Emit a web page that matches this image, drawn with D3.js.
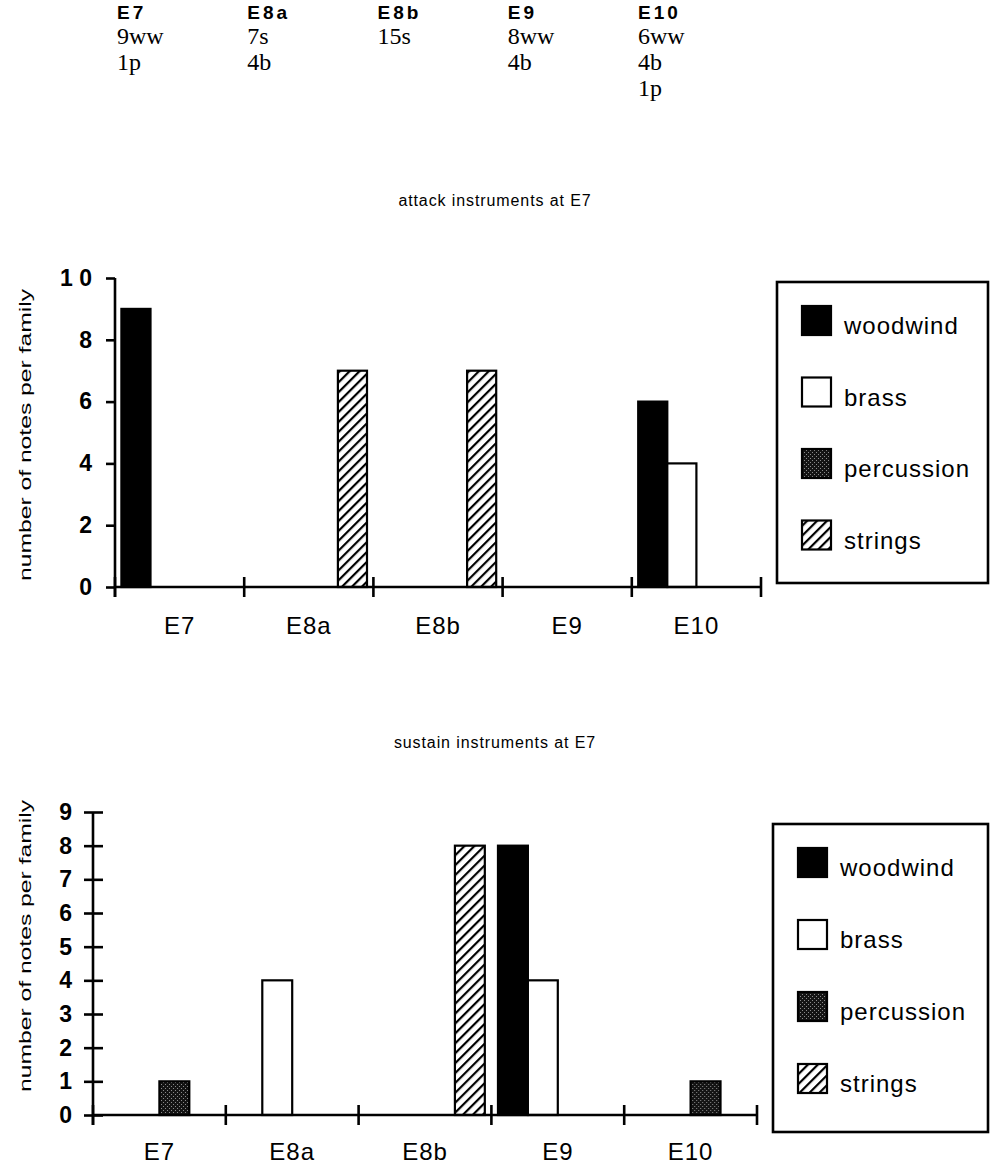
<!DOCTYPE html>
<html>
<head>
<meta charset="utf-8">
<script src="https://cdn.jsdelivr.net/npm/d3@7"></script>
<style>
  html, body { margin: 0; padding: 0; background: #fff; }
  svg { display: block; }
</style>
</head>
<body>
<script>
// ---------- DATA ----------
const categories = ["E7", "E8a", "E8b", "E9", "E10"];
const families = ["woodwind", "brass", "percussion", "strings"];

const attackWoodwind   = [9, 0, 0, 0, 6];
const attackBrass      = [0, 0, 0, 0, 4];
const attackPercussion = [0, 0, 0, 0, 0];
const attackStrings    = [0, 7, 7, 0, 0];

const sustainWoodwind   = [0, 0, 0, 8, 0];
const sustainBrass      = [0, 4, 0, 4, 0];
const sustainPercussion = [1, 0, 0, 0, 1];
const sustainStrings    = [0, 0, 8, 0, 0];

const attackTicks  = [0, 2, 4, 6, 8, 10];
const sustainTicks = [0, 1, 2, 3, 4, 5, 6, 7, 8, 9];

const headerLabels = ["E7", "E8a", "E8b", "E9", "E10"];
const headerLines  = [["9ww", "1p"], ["7s", "4b"], ["15s"], ["8ww", "4b"], ["6ww", "4b", "1p"]];

const attackTitle  = "attack instruments at E7";
const sustainTitle = "sustain instruments at E7";
const yTitle = "number of notes per family";

// ---------- SETUP ----------
const W = 990, H = 1164;
const svg = d3.select("body").append("svg").attr("width", W).attr("height", H);
const defs = svg.append("defs");

// strings hatch
const hatch = defs.append("pattern").attr("id", "hatch")
  .attr("patternUnits", "userSpaceOnUse").attr("width", 7).attr("height", 7)
  .attr("patternTransform", "rotate(45)");
hatch.append("rect").attr("width", 7).attr("height", 7).attr("fill", "#fff");
hatch.append("line").attr("x1", 1).attr("y1", 0).attr("x2", 1).attr("y2", 7)
  .attr("stroke", "#000").attr("stroke-width", 2.4);

// percussion stipple
const stip = defs.append("pattern").attr("id", "stipple")
  .attr("patternUnits", "userSpaceOnUse").attr("width", 4).attr("height", 4);
stip.append("rect").attr("width", 4).attr("height", 4).attr("fill", "#141414");
stip.append("rect").attr("x", 0).attr("y", 0).attr("width", 1).attr("height", 1).attr("fill", "#8a8a8a");
stip.append("rect").attr("x", 2).attr("y", 2).attr("width", 1).attr("height", 1).attr("fill", "#8a8a8a");

const fills = { woodwind: "#000", brass: "#fff", percussion: "url(#stipple)", strings: "url(#hatch)" };

// ---------- HEADER ----------
const headerX = d3.scalePoint().domain(headerLabels).range([117, 638]);
const hdr = svg.append("g");
headerLabels.forEach((lab, i) => {
  const x = headerX(lab);
  hdr.append("text").attr("x", x).attr("y", 19)
    .attr("font-family", "Arial, 'Liberation Sans', sans-serif")
    .attr("font-weight", "bold").attr("font-size", 19).attr("letter-spacing", 3)
    .text(lab);
  headerLines[i].forEach((t, j) => {
    hdr.append("text").attr("x", x).attr("y", 44 + j * 26)
      .attr("font-family", "'Liberation Serif', 'Times New Roman', serif")
      .attr("font-size", 24)
      .text(t);
  });
});

// ---------- CHART FUNCTION ----------
function drawChart(cfg) {
  const g = svg.append("g");
  const series = families.map((f, k) => ({ family: f, values: cfg.values[k] }));

  const x = d3.scaleBand().domain(categories).range([cfg.x0, cfg.x1]).paddingInner(0).paddingOuter(0);
  const xs = d3.scaleBand().domain(families).range([0, x.bandwidth()]).paddingInner(0).paddingOuter(0.22);
  const y = d3.scaleLinear().domain([0, cfg.yMax]).range([cfg.yBottom, cfg.yTop]);

  // title
  g.append("text").attr("x", 495).attr("y", cfg.titleY)
    .attr("text-anchor", "middle")
    .attr("font-family", "Arial, 'Liberation Sans', sans-serif")
    .attr("font-size", 16).attr("letter-spacing", 0.9)
    .text(cfg.title);

  // y title
  g.append("text")
    .attr("transform", `translate(${cfg.yLabelX},${cfg.yLabelY}) rotate(-90)`)
    .attr("text-anchor", "middle")
    .attr("font-family", "Arial, 'Liberation Sans', sans-serif")
    .attr("font-size", 17)
    .attr("textLength", 292).attr("lengthAdjust", "spacingAndGlyphs")
    .text(yTitle);

  // bars
  const groups = g.selectAll("g.cat").data(categories).join("g")
    .attr("transform", d => `translate(${x(d)},0)`);
  groups.each(function (cat, ci) {
    d3.select(this).selectAll("rect")
      .data(series.filter(s => s.values[ci] > 0).map(s => ({ family: s.family, v: s.values[ci] })))
      .join("rect")
      .attr("x", d => xs(d.family))
      .attr("width", xs.bandwidth())
      .attr("y", d => y(d.v))
      .attr("height", d => y(0) - y(d.v))
      .attr("fill", d => fills[d.family])
      .attr("stroke", "#000").attr("stroke-width", 2.2);
  });

  // y axis
  const yAxis = d3.axisLeft(y).tickValues(cfg.ticks).tickSize(9).tickPadding(cfg.yPad)
    .tickFormat(d => d === 10 ? "1 0" : String(d));
  const ya = g.append("g").attr("transform", `translate(${cfg.x0},0)`).call(yAxis);
  ya.select(".domain").remove();
  ya.append("line").attr("x1", 0).attr("x2", 0).attr("y1", cfg.yTop).attr("y2", cfg.yBottom + 10)
    .attr("stroke", "#000").attr("stroke-width", 2.6);
  ya.selectAll(".tick line").attr("x1", cfg.yTickRight).attr("x2", -9).attr("stroke-width", 2.6);
  ya.selectAll(".tick text")
    .attr("font-family", "Arial, 'Liberation Sans', sans-serif")
    .attr("font-weight", "bold").attr("font-size", 23).attr("fill", "#000");

  // x axis
  const xAxis = d3.axisBottom(x).tickSize(0).tickPadding(cfg.xLabelPad);
  const xa = g.append("g").attr("transform", `translate(0,${cfg.yBottom})`).call(xAxis);
  xa.select(".domain").attr("stroke-width", 2.6).attr("d", `M${cfg.x0},0H${cfg.x1}`);
  xa.selectAll(".tick text")
    .attr("font-family", "Arial, 'Liberation Sans', sans-serif")
    .attr("font-size", 24).attr("letter-spacing", 1).attr("fill", "#000");
  const bounds = categories.map(c => x(c)).concat([cfg.x1]);
  xa.selectAll("line.sep").data(bounds).join("line").attr("class", "sep")
    .attr("x1", d => d).attr("x2", d => d).attr("y1", -10).attr("y2", 10)
    .attr("stroke", "#000").attr("stroke-width", 2.6);

  // legend
  const lg = g.append("g");
  lg.append("rect").attr("x", cfg.legX).attr("y", cfg.legY)
    .attr("width", 988 - cfg.legX).attr("height", cfg.legH)
    .attr("fill", "none").attr("stroke", "#000").attr("stroke-width", 2.6);
  const ly = d3.scalePoint().domain(families).range([cfg.legY + 24, cfg.legY + 24 + 3 * cfg.legStep]);
  families.forEach(f => {
    lg.append("rect").attr("x", cfg.legX + 25).attr("y", ly(f))
      .attr("width", 29).attr("height", 29)
      .attr("fill", fills[f]).attr("stroke", "#000").attr("stroke-width", 2.2);
    lg.append("text").attr("x", cfg.legX + 67).attr("y", ly(f) + 28)
      .attr("font-family", "Arial, 'Liberation Sans', sans-serif")
      .attr("font-size", 24).attr("letter-spacing", 1)
      .text(f);
  });
}

drawChart({
  title: attackTitle, titleY: 206,
  values: [attackWoodwind, attackBrass, attackPercussion, attackStrings],
  x0: 115, x1: 761, yTop: 278, yBottom: 587, yMax: 10, ticks: attackTicks,
  yTickRight: 0, xLabelPad: 30, yPad: 14,
  yLabelX: 31, yLabelY: 435,
  legX: 777, legY: 282, legH: 301, legStep: 71.5
});

drawChart({
  title: sustainTitle, titleY: 748,
  values: [sustainWoodwind, sustainBrass, sustainPercussion, sustainStrings],
  x0: 93, x1: 757, yTop: 812, yBottom: 1115, yMax: 9, ticks: sustainTicks,
  yTickRight: 10, xLabelPad: 28, yPad: 12,
  yLabelX: 31, yLabelY: 946,
  legX: 773, legY: 824, legH: 308, legStep: 72
});
</script>
</body>
</html>
